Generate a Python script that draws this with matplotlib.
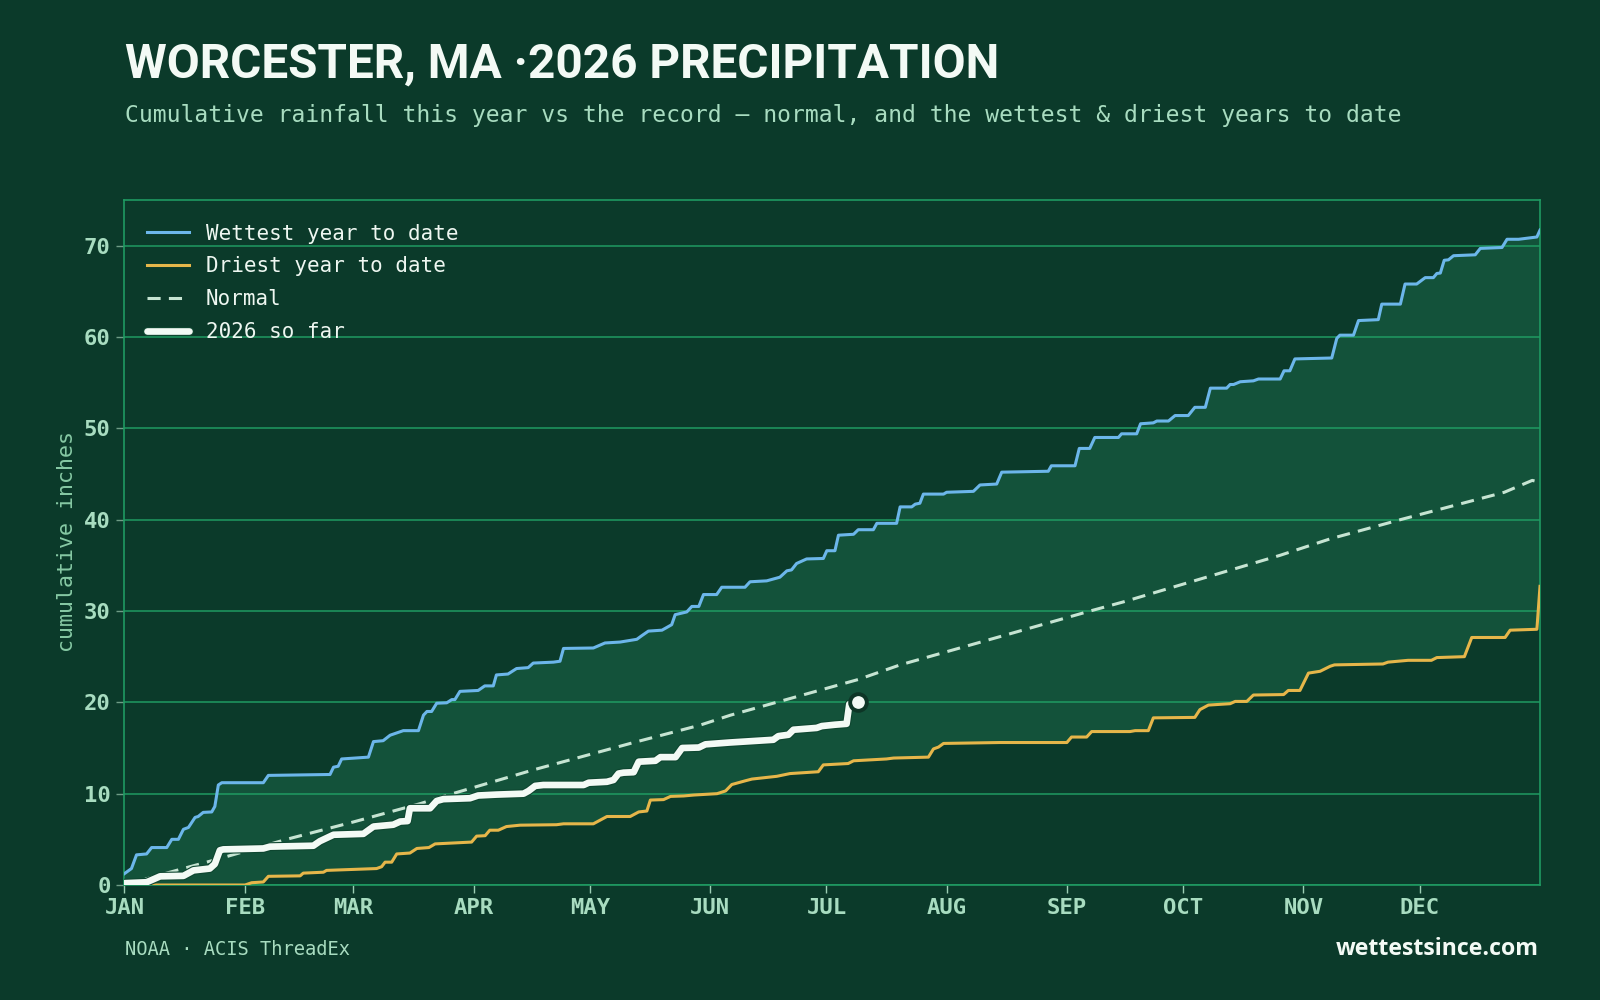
import numpy as np
import matplotlib
matplotlib.use("Agg")
import matplotlib.pyplot as plt
import matplotlib.patheffects as pe

# ---------------- data ----------------
month_labels = ["JAN", "FEB", "MAR", "APR", "MAY", "JUN", "JUL", "AUG", "SEP", "OCT", "NOV", "DEC"]
month_start_day = [0, 31, 59, 90, 120, 151, 181, 212, 243, 273, 304, 334]
y_ticks = [0, 10, 20, 30, 40, 50, 60, 70]

wettest_day = [0, 1.8, 3.1, 5.7, 7.0, 10.9, 12.2, 13.9, 15.2, 16.5, 18.2, 19.0, 20.3, 22.5, 23.3, 24.2,
               25.1, 35.8, 37.1, 53, 53.9, 55.1, 56, 62.9, 64.2, 66.7, 68.5, 71.9, 75.8, 77.1, 78.0, 79.2,
               80.5, 83.1, 84.4, 85.2, 86.5, 91.2, 92.9, 95.1, 95.9, 98.9, 101.1, 104.1, 105.4, 110.6,
               112.3, 113.2, 120.9, 123.9, 127.8, 132.1, 133.4, 135.1, 138.6, 141.1, 142.0, 145.0, 146.3,
               148.1, 149.3, 152.7, 154.0, 160.0, 161.3, 165.6, 169.0, 170.8, 172.0, 173.3, 175.9, 180.2,
               181.1, 183.2, 184.1, 188.0, 189.2, 193.1, 194.0, 199.1, 200.0, 203.0, 203.9, 205.1, 206.0,
               211.2, 212.0, 218.9, 220.6, 224.9, 226.2, 238.2, 239.0, 245.1, 246.2, 248.9, 250.2, 256.3,
               257.1, 261.0, 262.0, 265.3, 266.2, 269.2, 270.9, 274.3, 276.0, 278.7, 280.0, 284.2, 285.1,
               286.0, 287.7, 291.1, 292.4, 298.0, 299.0, 300.5, 301.8, 311.3, 312.6, 313.4, 316.9, 318.2,
               323.3, 324.2, 329.0, 330.2, 333.2, 335.4, 337.5, 338.4, 339.3, 340.3, 341.4, 342.7, 348.3,
               349.6, 355.2, 356.5, 359.5, 364.2, 365]
wettest_in = [1.25, 1.8, 3.3, 3.4, 4.1, 4.1, 5.0, 5.0, 6.1, 6.3, 7.4, 7.5, 7.95, 8.0, 8.6, 10.95,
              11.2, 11.2, 12.0, 12.1, 12.9, 13.0, 13.8, 14.0, 15.7, 15.8, 16.4, 16.9, 16.9, 18.6, 19.0, 19.0,
              19.9, 19.95, 20.3, 20.3, 21.2, 21.3, 21.8, 21.8, 23.0, 23.1, 23.7, 23.8, 24.3, 24.4,
              24.5, 25.9, 25.95, 26.5, 26.6, 26.9, 27.3, 27.8, 27.9, 28.5, 29.6, 29.9, 30.5,
              30.5, 31.8, 31.8, 32.6, 32.6, 33.2, 33.3, 33.7, 34.4, 34.5, 35.2, 35.7, 35.75,
              36.6, 36.6, 38.3, 38.4, 38.9, 38.9, 39.6, 39.6, 41.4, 41.4, 41.7, 41.8, 42.8,
              42.8, 43.0, 43.1, 43.8, 43.9, 45.2, 45.3, 45.9, 45.9, 47.8, 47.8, 49.0, 49.0,
              49.4, 49.4, 50.5, 50.6, 50.8, 50.8, 51.4, 51.4, 52.3, 52.3, 54.4, 54.4, 54.8,
              54.8, 55.1, 55.2, 55.4, 55.4, 56.3, 56.3, 57.6, 57.7, 59.85, 60.2, 60.2, 61.8,
              61.9, 63.6, 63.6, 65.8, 65.8, 66.5, 66.5, 66.96, 67.0, 68.4, 68.45, 68.9, 69.0,
              69.7, 69.8, 70.7, 70.7, 70.95, 71.7]

driest_day = [0, 31.1, 32.8, 35.8, 37.1, 45.3, 46.1, 51.3, 52.1, 65, 66.3, 67.2, 68.9, 70.2, 73.6, 75.4,
              78.5, 80.1, 89.5, 90.8, 93, 94.2, 96.4, 98.5, 102, 111.4, 113.2, 120.9, 124.4, 130.4, 132.6,
              134.7, 135.6, 139, 140.8, 144.2, 146.8, 152.8, 155.0, 156.6, 160, 161.8, 168.2, 171.6, 178.9,
              180.2, 186.6, 188, 196.5, 198.3, 207.3, 208.6, 209.9, 211.2, 225.8, 243, 244.2, 248.1, 249.4,
              259.3, 260.6, 264, 265.3, 276, 277.3, 279.5, 285.1, 286.4, 289.4, 291.1, 298.9, 300.1, 303.1,
              305.3, 308.3, 310.9, 312, 324.5, 325.8, 331, 337, 338.4, 345.5, 347.4, 356, 357.3, 364.2, 365]
driest_in = [0, 0, 0.25, 0.33, 0.95, 1.0, 1.3, 1.4, 1.6, 1.8, 2.0, 2.5, 2.5, 3.4, 3.5, 4.0,
             4.1, 4.5, 4.7, 5.35, 5.4, 6.0, 6.0, 6.4, 6.55, 6.6, 6.7, 6.7, 7.5, 7.5, 8.0,
             8.1, 9.3, 9.35, 9.7, 9.75, 9.85, 10.0, 10.3, 11.0, 11.4, 11.6, 11.9, 12.2, 12.4,
             13.15, 13.3, 13.6, 13.8, 13.9, 14.0, 14.9, 15.1, 15.5, 15.6, 15.6, 16.2, 16.2, 16.8,
             16.8, 16.9, 16.9, 18.3, 18.35, 19.2, 19.7, 19.85, 20.1, 20.1, 20.8, 20.85, 21.3, 21.3,
             23.2, 23.4, 23.95, 24.1, 24.2, 24.4, 24.6, 24.6, 24.9, 25.0, 27.1, 27.1, 27.9, 28.0, 32.7]

normal_day = [0, 11.7, 24.6, 41.8, 59, 76.2, 82.2, 105.4, 131.3, 148.4, 156.3, 189.2, 200, 225.8,
              249, 257.6, 298, 310.9, 329, 355.8, 363, 365]
normal_in = [0, 1.4, 2.9, 5.0, 6.9, 8.9, 9.7, 12.6, 15.6, 17.5, 18.6, 22.5, 24.1, 27.2,
             30.0, 31.0, 36.1, 37.9, 40.0, 43.0, 44.3, 44.1]

ytd_day = [0, 5.7, 9.2, 15.2, 17.8, 22.0, 23.3, 24.6, 25.5, 35.8, 37.5, 48.7, 50.4, 53.9, 61.6, 64.2,
           69.3, 71.1, 73.0, 73.6, 78.8, 80.5, 82.2, 89.1, 91.2, 96.0, 102.9, 104.2, 105.9, 108, 118.4,
           119.7, 124.4, 126.1, 127.4, 128.7, 131.3, 132.6, 136.9, 138.2, 142.1, 143.8, 148.1, 149.8,
           156.0, 167.3, 168.6, 171.2, 172.5, 178.5, 179.8, 183.2, 186.2, 186.9, 189.2]
ytd_in = [0.2, 0.3, 0.95, 1.0, 1.6, 1.8, 2.3, 3.8, 3.9, 4.0, 4.2, 4.3, 4.8, 5.5, 5.6, 6.4,
          6.6, 6.95, 7.0, 8.4, 8.4, 9.2, 9.4, 9.5, 9.8, 9.9, 10.0, 10.3, 10.85, 10.95, 10.95,
          11.2, 11.3, 11.5, 12.2, 12.3, 12.35, 13.5, 13.6, 14.0, 14.0, 15.0, 15.05, 15.4,
          15.6, 15.9, 16.3, 16.45, 17.0, 17.2, 17.4, 17.55, 17.65, 19.8, 20.0]

# ---------------- style ----------------
BG = "#0b3a2a"
BAND = "#13523a"
GRID = "#1f9a62"
BLUE = "#6cb6ea"
GOLD = "#e6b64a"
NORMAL = "#c6e4d2"
WHITE = "#f3faf5"
LIGHT = "#a8dcc0"
MONO = "DejaVu Sans Mono"

fig = plt.figure(figsize=(16, 10), dpi=100, facecolor=BG)
ax = fig.add_axes([0.0778, 0.115, 0.8847, 0.685], facecolor=BG)

# band between wettest and driest
ax.fill(np.concatenate([wettest_day, driest_day[::-1]]),
        np.concatenate([wettest_in, driest_in[::-1]]),
        color=BAND, lw=0, zorder=1)

ax.set_xlim(0, 365)
ax.set_ylim(0, 75)
ax.set_yticks(y_ticks)
ax.yaxis.grid(True, color=GRID, lw=1.1)
for g in ax.get_ygridlines():
    g.set_zorder(1.5)

l1, = ax.plot(wettest_day, wettest_in, color=BLUE, lw=2.2, zorder=3, label="Wettest year to date")
l2, = ax.plot(driest_day, driest_in, color=GOLD, lw=2.2, zorder=3, label="Driest year to date")
l3, = ax.plot(normal_day, normal_in, color=NORMAL, lw=2.2, dashes=(4.3, 2.7), zorder=3, label="Normal")
l4, = ax.plot(ytd_day, ytd_in, color=WHITE, lw=4.8, zorder=4, label="2026 so far",
              solid_capstyle="round", solid_joinstyle="round",
              path_effects=[pe.Stroke(linewidth=6.4, foreground="#0e4630"), pe.Normal()])
ax.plot([ytd_day[-1]], [ytd_in[-1]], "o", ms=12, mfc=WHITE, mec="#0d3526", mew=2.8, zorder=5)

for s in ax.spines.values():
    s.set_color(GRID)
    s.set_linewidth(1.2)
    s.set_zorder(2)

ax.set_xticks(month_start_day)
ax.set_xticklabels(month_labels)
ax.tick_params(axis="x", colors="#9ccfb4", length=6, width=1, pad=3, labelsize=16)
ax.tick_params(axis="y", colors="#6f9c86", length=6, width=1, pad=4, labelsize=16)
for lab in ax.get_xticklabels() + ax.get_yticklabels():
    lab.set_fontfamily(MONO)
    lab.set_fontweight("bold")
    lab.set_color(LIGHT)

leg = ax.legend(handles=[l1, l2, l3, l4], loc="upper left", frameon=False,
                prop={"family": MONO, "size": 15}, labelcolor="#eef7f1",
                handlelength=2.0, handletextpad=0.8, labelspacing=0.62,
                bbox_to_anchor=(0.003, 0.993))

fig.text(67 / 1600, 0.459, "cumulative inches", rotation=90, ha="center", va="center",
         family=MONO, fontsize=15.6, color="#86c9a4")

fig.text(125 / 1600, 1 - 78 / 1000, "WORCESTER, MA \u00b72026 PRECIPITATION", ha="left", va="baseline",
         family="Roboto", fontweight="bold", fontsize=34.4, color="#f3faf5")
fig.text(125 / 1600, 1 - 122 / 1000,
         "Cumulative rainfall this year vs the record \u2014 normal, and the wettest & driest years to date",
         ha="left", va="baseline", family=MONO, fontsize=16.6, color=LIGHT)
fig.text(125 / 1600, 1 - 955 / 1000, "NOAA \u00b7 ACIS ThreadEx", ha="left", va="baseline",
         family=MONO, fontsize=13.5, color=LIGHT)
fig.text(1539 / 1600, 1 - 955 / 1000, "wettestsince.com", ha="right", va="baseline",
         family="Open Sans", fontweight="bold", fontsize=16.7, color="#f3faf5")

fig.savefig("out.png", dpi=100, facecolor=BG)
